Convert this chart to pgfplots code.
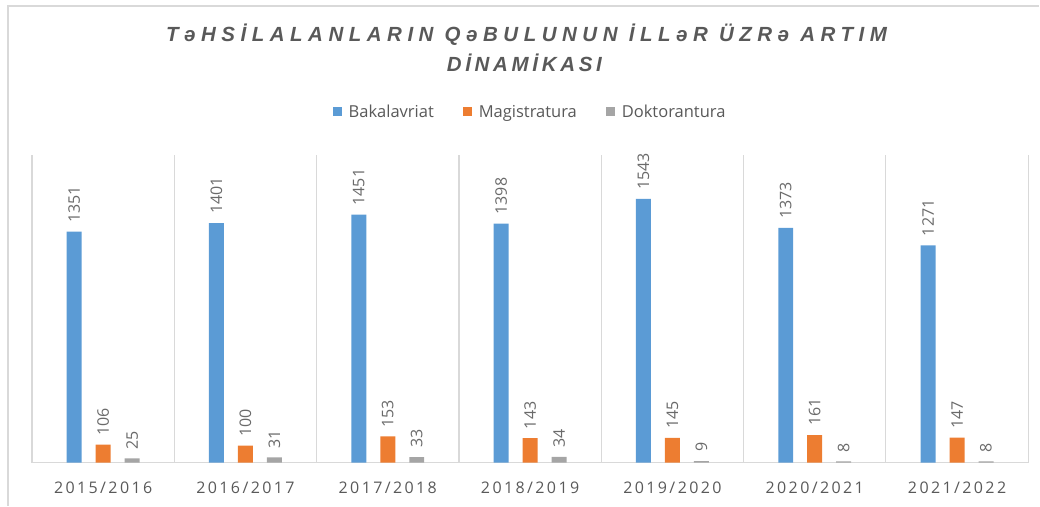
\documentclass[border=0pt]{standalone}
\usepackage{fontspec}
\setmainfont{Open Sans}
\newfontfamily\titlefont[LetterSpace=27]{Liberation Sans Bold Italic}
\newfontfamily\titlefontB[LetterSpace=18]{Liberation Sans Bold Italic}
\newfontfamily\tickfont[LetterSpace=15]{Open Sans}
\usepackage{pgfplots}
\pgfplotsset{compat=1.18}
\definecolor{cBlue}{HTML}{5B9BD5}
\definecolor{cOrange}{HTML}{ED7D31}
\definecolor{cGray}{HTML}{A5A5A5}
\definecolor{sepgray}{HTML}{D9D9D9}
\definecolor{txtgray}{HTML}{595959}
\definecolor{valgray}{HTML}{6A6A6A}
\begin{document}
\begin{tikzpicture}[x=1pt,y=1pt]
\begin{axis}[
  name=ax,
  width=997pt, height=308pt, scale only axis,
  clip=false,
  ybar=14pt, bar width=15pt,
  xmin=-0.5, xmax=6.5, ymin=0, ymax=1800,
  xtick={0,...,6},
  xticklabels={2015/2016,2016/2017,2017/2018,2018/2019,2019/2020,2020/2021,2021/2022},
  xticklabel style={font=\tickfont\fontsize{16}{16}\selectfont, text=txtgray, yshift=-11pt},
  xtick style={draw=none},
  minor xtick={-0.5,0.5,...,6.5},
  xminorgrids=true,
  minor x grid style={sepgray, line width=1.2pt},
  minor tick length=0pt,
  axis y line=none,
  axis x line*=bottom,
  x axis line style={sepgray, line width=1.2pt, -},
  ytick=\empty,
  nodes near coords={\pgfmathprintnumber[assume math mode=true,1000 sep={}]{\pgfplotspointmeta}},
  every node near coord/.append style={rotate=90, anchor=west, font=\fontsize{16}{16}\selectfont, text=valgray, inner xsep=9pt, inner ysep=0pt},
  legend columns=3,
  legend style={draw=none, at={(0.5,1.14)}, anchor=center, font=\fontsize{16.5}{16.5}\selectfont, text=txtgray,
    /tikz/every even column/.append style={column sep=27pt}},
  legend image code/.code={\fill[#1,draw=none] (0pt,-4.5pt) rectangle (9.5pt,5pt); \path (14pt,0pt);},
]
\addplot[fill=cBlue, draw=none] coordinates {(0,1351) (1,1401) (2,1451) (3,1398) (4,1543) (5,1373) (6,1271)};
\addplot[fill=cOrange, draw=none] coordinates {(0,106) (1,100) (2,153) (3,143) (4,145) (5,161) (6,147)};
\addplot[fill=cGray, draw=none] coordinates {(0,25) (1,31) (2,33) (3,34) (4,9) (5,8) (6,8)};
\legend{Bakalavriat,Magistratura,Doktorantura}
\coordinate (O) at (rel axis cs:0,0);
\end{axis}
% picture frame relative to the plot area corner O (plot area: x 32..1029, y 43..351 of a 1040x506 page)
\path ([shift={(-32,-43)}]O) rectangle ([shift={(1008,463)}]O);
\draw[sepgray, line width=1.6pt] ([shift={(-24,-43)}]O) -- ([shift={(-24,457)}]O) -- ([shift={(1008,457)}]O);
\node[anchor=base west, inner sep=0pt, text=txtgray, font=\titlefont\fontsize{20.5}{24}\selectfont] at ([shift={(134,421)}]O) {TəHSİLALANLARIN QəBULUNUN İLLəR ÜZRə ARTIM};
\node[anchor=base west, inner sep=0pt, text=txtgray, font=\titlefontB\fontsize{20.5}{24}\selectfont] at ([shift={(415,391)}]O) {DİNAMİKASI};
\end{tikzpicture}
\end{document}
